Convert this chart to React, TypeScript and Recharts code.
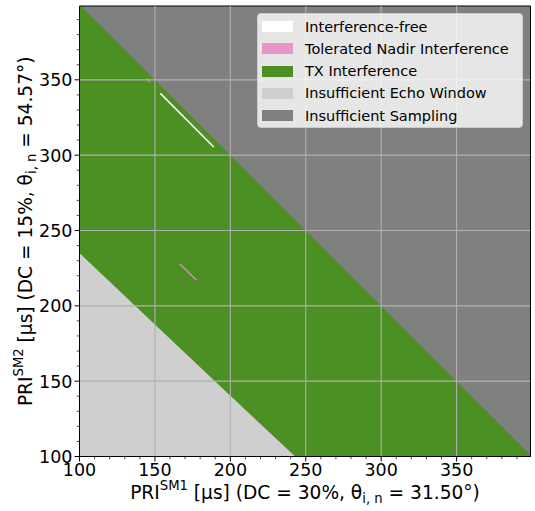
import React from 'react';
import {
  ComposedChart,
  Area,
  Line,
  XAxis,
  YAxis,
  ReferenceLine,
  ReferenceArea,
  Legend,
  Label,
} from 'recharts';

// ---- data ----
const xDomain = [100, 399];
const yDomain = [100, 399];
const majorTicks = [100, 150, 200, 250, 300, 350];
const allTicks = [
  100, 110, 120, 130, 140, 150, 160, 170, 180, 190, 200, 210, 220, 230, 240, 250,
  260, 270, 280, 290, 300, 310, 320, 330, 340, 350, 360, 370, 380, 390,
];
const gridTicks = [150, 200, 250, 300, 350];

// region boundaries (PRI_SM1 -> PRI_SM2)
const samplingRegion = [
  { x: 100, y: 400 },
  { x: 399, y: 400 },
];
const txRegion = [
  { x: 100, y: 400 },
  { x: 399, y: 101 },
];
const echoRegion = [
  { x: 100, y: 235 },
  { x: 150, y: 187.6 },
  { x: 200, y: 140.3 },
  { x: 243, y: 100 },
];
const freeSegment = [
  { x: 153.6, y: 341 },
  { x: 189, y: 305.4 },
];
const nadirSegmentA = [
  { x: 166.4, y: 228 },
  { x: 177.5, y: 217.1 },
];
const nadirSegmentB = [
  { x: 144.5, y: 350.8 },
  { x: 146.9, y: 348.3 },
];

const legendLabels = [
  'Interference-free',
  'Tolerated Nadir Interference',
  'TX Interference',
  'Insufficient Echo Window',
  'Insufficient Sampling',
];
const legendColors = ['#ffffff', '#e896c8', '#4c8f22', '#cfcfcf', '#808080'];

const FONT = 'DejaVu Sans, sans-serif';
const TICK_FS = 17.5;
const LABEL_FS = 18.6;
const SUB_FS = 13.2;

const XTick = (props: any) => {
  const { x, y, payload } = props;
  const v = payload.value;
  const major = majorTicks.includes(v);
  return (
    <g>
      <line x1={x} x2={x} y1={y} y2={y + (major ? 4.9 : 2.8)} stroke="#000" strokeWidth={major ? 1 : 0.7} />
      {major && (
        <text x={x} y={y + 19.3} textAnchor="middle" fontSize={TICK_FS} fontFamily={FONT} fill="#000">
          {v}
        </text>
      )}
    </g>
  );
};

const YTick = (props: any) => {
  const { x, y, payload } = props;
  const v = payload.value;
  const major = majorTicks.includes(v);
  return (
    <g>
      <line x1={x} x2={x - (major ? 4.9 : 2.8)} y1={y} y2={y} stroke="#000" strokeWidth={major ? 1 : 0.7} />
      {major && (
        <text x={x - 7} y={y + 6.4} textAnchor="end" fontSize={TICK_FS} fontFamily={FONT} fill="#000">
          {v}
        </text>
      )}
    </g>
  );
};

const XTitle = (props: any) => {
  const vb = props.viewBox || { x: 79.5, y: 456.5, width: 451, height: 54.5 };
  const cx = vb.x + vb.width / 2;
  const by = vb.y + 42.2;
  return (
    <text x={cx} y={by} textAnchor="middle" fontSize={LABEL_FS} fontFamily={FONT} fill="#000">
      <tspan>PRI</tspan>
      <tspan dy={-8.5} fontSize={SUB_FS}>SM1</tspan>
      <tspan dy={8.5}> [µs] (DC = 30%, θ</tspan>
      <tspan dy={4} fontSize={SUB_FS}>i, n</tspan>
      <tspan dy={-4}> = 31.50°)</tspan>
    </text>
  );
};

const YTitle = (props: any) => {
  const vb = props.viewBox || { x: 0, y: 6, width: 79.5, height: 450.5 };
  const cy = vb.y + vb.height / 2;
  const bx = 31.7;
  return (
    <text
      x={bx}
      y={cy}
      transform={`rotate(-90, ${bx}, ${cy})`}
      textAnchor="middle"
      fontSize={LABEL_FS}
      fontFamily={FONT}
      fill="#000"
    >
      <tspan>PRI</tspan>
      <tspan dy={-8.5} fontSize={SUB_FS}>SM2</tspan>
      <tspan dy={8.5}> [µs] (DC = 15%, θ</tspan>
      <tspan dy={4} fontSize={SUB_FS}>i, n</tspan>
      <tspan dy={-4}> = 54.57°)</tspan>
    </text>
  );
};

const LegendBox = () => (
  <div
    style={{
      width: 266,
      height: 115,
      boxSizing: 'border-box',
      background: 'rgba(255,255,255,0.8)',
      border: '1px solid #cccccc',
      borderRadius: 4,
      paddingTop: 1.5,
      fontFamily: FONT,
      fontSize: 14.5,
      color: '#000',
    }}
  >
    {legendLabels.map((lab, i) => (
      <div key={lab} style={{ height: 22.3, display: 'flex', alignItems: 'center', position: 'relative' }}>
        <div
          style={{
            position: 'absolute',
            left: 4,
            width: 31,
            height: 11,
            background: legendColors[i],
          }}
        />
        <span style={{ position: 'absolute', left: 47, whiteSpace: 'nowrap', lineHeight: '22.3px' }}>{lab}</span>
      </div>
    ))}
  </div>
);

export default function App() {
  return (
    <div style={{ position: 'absolute', left: 0, top: 0, width: 535, height: 511, background: '#fff' }}>
      <ComposedChart
        width={535}
        height={511}
        margin={{ top: 6, right: 4.5, bottom: 0, left: 0 }}
      >
        <XAxis
          type="number"
          dataKey="x"
          domain={xDomain}
          allowDataOverflow
          ticks={allTicks}
          interval={0}
          tickSize={0}
          tickMargin={0}
          tickLine={false}
          tick={<XTick />}
          height={54.5}
          axisLine={{ stroke: '#000', strokeWidth: 1 }}
        >
          <Label content={<XTitle />} position="insideBottom" />
        </XAxis>
        <YAxis
          type="number"
          dataKey="y"
          domain={yDomain}
          allowDataOverflow
          ticks={allTicks}
          interval={0}
          tickSize={0}
          tickMargin={0}
          tickLine={false}
          tick={<YTick />}
          width={79.5}
          axisLine={{ stroke: '#000', strokeWidth: 1 }}
        >
          <Label content={<YTitle />} position="insideLeft" />
        </YAxis>
        <Area
          data={samplingRegion}
          dataKey="y"
          type="linear"
          fill={legendColors[4]}
          fillOpacity={1}
          stroke="none"
          isAnimationActive={false}
          legendType="none"
        />
        <Area
          data={txRegion}
          dataKey="y"
          type="linear"
          fill={legendColors[2]}
          fillOpacity={1}
          stroke="none"
          isAnimationActive={false}
          legendType="none"
        />
        <Area
          data={echoRegion}
          dataKey="y"
          type="linear"
          fill={legendColors[3]}
          fillOpacity={1}
          stroke="none"
          isAnimationActive={false}
          legendType="none"
        />
        <Line
          data={freeSegment}
          dataKey="y"
          type="linear"
          stroke="#ffffff"
          strokeWidth={1.5}
          dot={false}
          isAnimationActive={false}
        />
        <Line
          data={nadirSegmentA}
          dataKey="y"
          type="linear"
          stroke="#d092bc"
          strokeWidth={1.4}
          dot={false}
          isAnimationActive={false}
        />
        <Line
          data={nadirSegmentB}
          dataKey="y"
          type="linear"
          stroke="#d092bc"
          strokeWidth={1.3}
          dot={false}
          isAnimationActive={false}
        />
        {gridTicks.map((v) => (
          <ReferenceLine key={'gx' + v} x={v} stroke="#b0b0b0" strokeWidth={1.1} ifOverflow="hidden" />
        ))}
        {gridTicks.map((v) => (
          <ReferenceLine key={'gy' + v} y={v} stroke="#b0b0b0" strokeWidth={1.1} ifOverflow="hidden" />
        ))}
        <ReferenceArea
          x1={xDomain[0]}
          x2={xDomain[1]}
          y1={yDomain[0]}
          y2={yDomain[1]}
          fill="none"
          fillOpacity={0}
          stroke="#000"
          strokeWidth={1}
          ifOverflow="visible"
        />
        <Legend
          layout="vertical"
          align="center"
          verticalAlign="middle"
          content={<LegendBox />}
          wrapperStyle={{ position: 'absolute', top: 13, left: 257, width: 266, height: 115 }}
        />
      </ComposedChart>
    </div>
  );
}
